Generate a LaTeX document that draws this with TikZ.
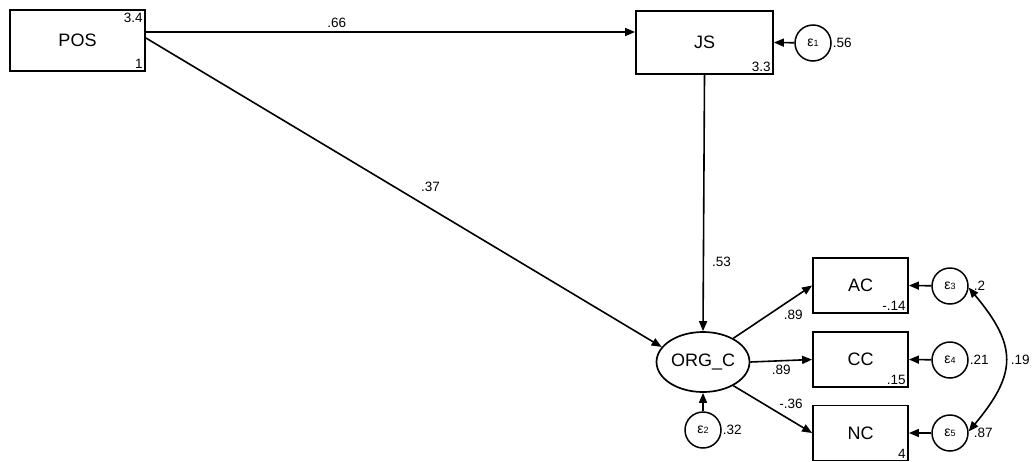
\documentclass[tikz,border=0pt]{standalone}
\usepackage{fontspec}
\setmainfont{Liberation Sans}
\usetikzlibrary{arrows.meta, positioning, shapes.geometric}

\begin{document}
\begin{tikzpicture}[x=1pt,y=-1pt,>={Triangle[length=10pt,width=8pt]},
        every node/.style={font=\fontsize{13.5}{13.5}\selectfont},
        obs/.style={draw,line width=1.8pt,rectangle,inner sep=0pt,
          font=\fontsize{18}{18}\selectfont},
        lat/.style={draw,line width=1.7pt,ellipse,minimum width=93pt,minimum height=60pt,
          inner sep=0pt,font=\fontsize{18}{18}\selectfont},
        err/.style={draw,line width=1.5pt,circle,minimum size=36pt,inner sep=0pt,
          font=\fontsize{14}{14}\selectfont},
        path/.style={->,line width=1.6pt},
        coef/.style={font=\fontsize{13.5}{13.5}\selectfont,inner sep=1pt}]
    \useasboundingbox (0,0) rectangle (1032,461);

      % observed and latent variables
      \node[obs,minimum width=135pt,minimum height=61pt] (POS) at (77.5,40.5) {POS};
      \node[obs,minimum width=137pt,minimum height=63pt] (JS)  at (704.5,42.5) {JS};
      \node[lat] (ORG) at (703,362) {ORG\_C};
      \node[obs,minimum width=95pt,minimum height=55pt] (AC) at (860.5,285.5) {AC};
      \node[obs,minimum width=95pt,minimum height=55pt] (CC) at (860.5,359.5) {CC};
      \node[obs,minimum width=95pt,minimum height=55pt] (NC) at (860.5,433) {NC};

      % intercepts
      \node[coef,anchor=north east] at ([shift={(-2pt,-3pt)}]POS.north east) {3.4};
      \node[coef,anchor=south east] at ([shift={(-2pt,2pt)}]POS.south east) {1};
      \node[coef,anchor=south east] at ([shift={(-2pt,2pt)}]JS.south east) {3.3};
      \node[coef,anchor=south east] at ([shift={(-2pt,2pt)}]AC.south east) {-.14};
      \node[coef,anchor=south east] at ([shift={(-2pt,2pt)}]CC.south east) {.15};
      \node[coef,anchor=south east] at ([shift={(-2pt,2pt)}]NC.south east) {4};

      % error terms
      \node[err] (e1) at (813,43)  {ε{\fontsize{9}{9}\selectfont 1}};
      \node[err] (e2) at (703,430) {ε{\fontsize{9}{9}\selectfont 2}};
      \node[err] (e3) at (950,286) {ε{\fontsize{9}{9}\selectfont 3}};
      \node[err] (e4) at (950,360) {ε{\fontsize{9}{9}\selectfont 4}};
      \node[err] (e5) at (950,433) {ε{\fontsize{9}{9}\selectfont 5}};
      \node[coef,anchor=west] at (e1.east) {.56};
      \node[coef,anchor=west] at (e2.east) {.32};
      \node[coef,anchor=west] at ([xshift=4pt]e3.east) {.2};
      \node[coef,anchor=west] at (e4.east) {.21};
      \node[coef,anchor=west] at ([xshift=4pt]e5.east) {.87};

      % paths
      \draw[path] ([yshift=8.5pt]POS.east) -- node[coef,pos=0.39,above=3pt] {.66} ([yshift=10.5pt]JS.west);
      \draw[path] ([yshift=2.5pt]POS.east) -- node[coef,pos=0.53,above right=8pt and 0pt] {.37} (ORG.160);
      \draw[path] (JS.south) -- node[coef,pos=0.73,right=7pt] {.53} (ORG.north);
      \draw[path] (ORG.38) -- node[coef,pos=0.62,below right=3pt and 0pt] {.89} (AC.west);
      \draw[path] (ORG.east) -- node[coef,pos=0.5,below=3pt] {.89} (CC.west);
      \draw[path] (ORG.-38) -- node[coef,pos=0.55,above right=1pt and 1pt] {-.36} (NC.west);

      \draw[path] (e1) -- (JS.east);
      \draw[path] (e2) -- (ORG.south);
      \draw[path] (e3) -- (AC.east);
      \draw[path] (e4) -- (CC.east);
      \draw[path] (e5) -- (NC.east);

      % covariance
      \draw[<->,line width=1.6pt] (e3.-5) to[out=-50,in=50,looseness=1.35]
        node[coef,pos=0.5,right=4pt] {.19} (e5.5);
    \end{tikzpicture}
\end{document}
